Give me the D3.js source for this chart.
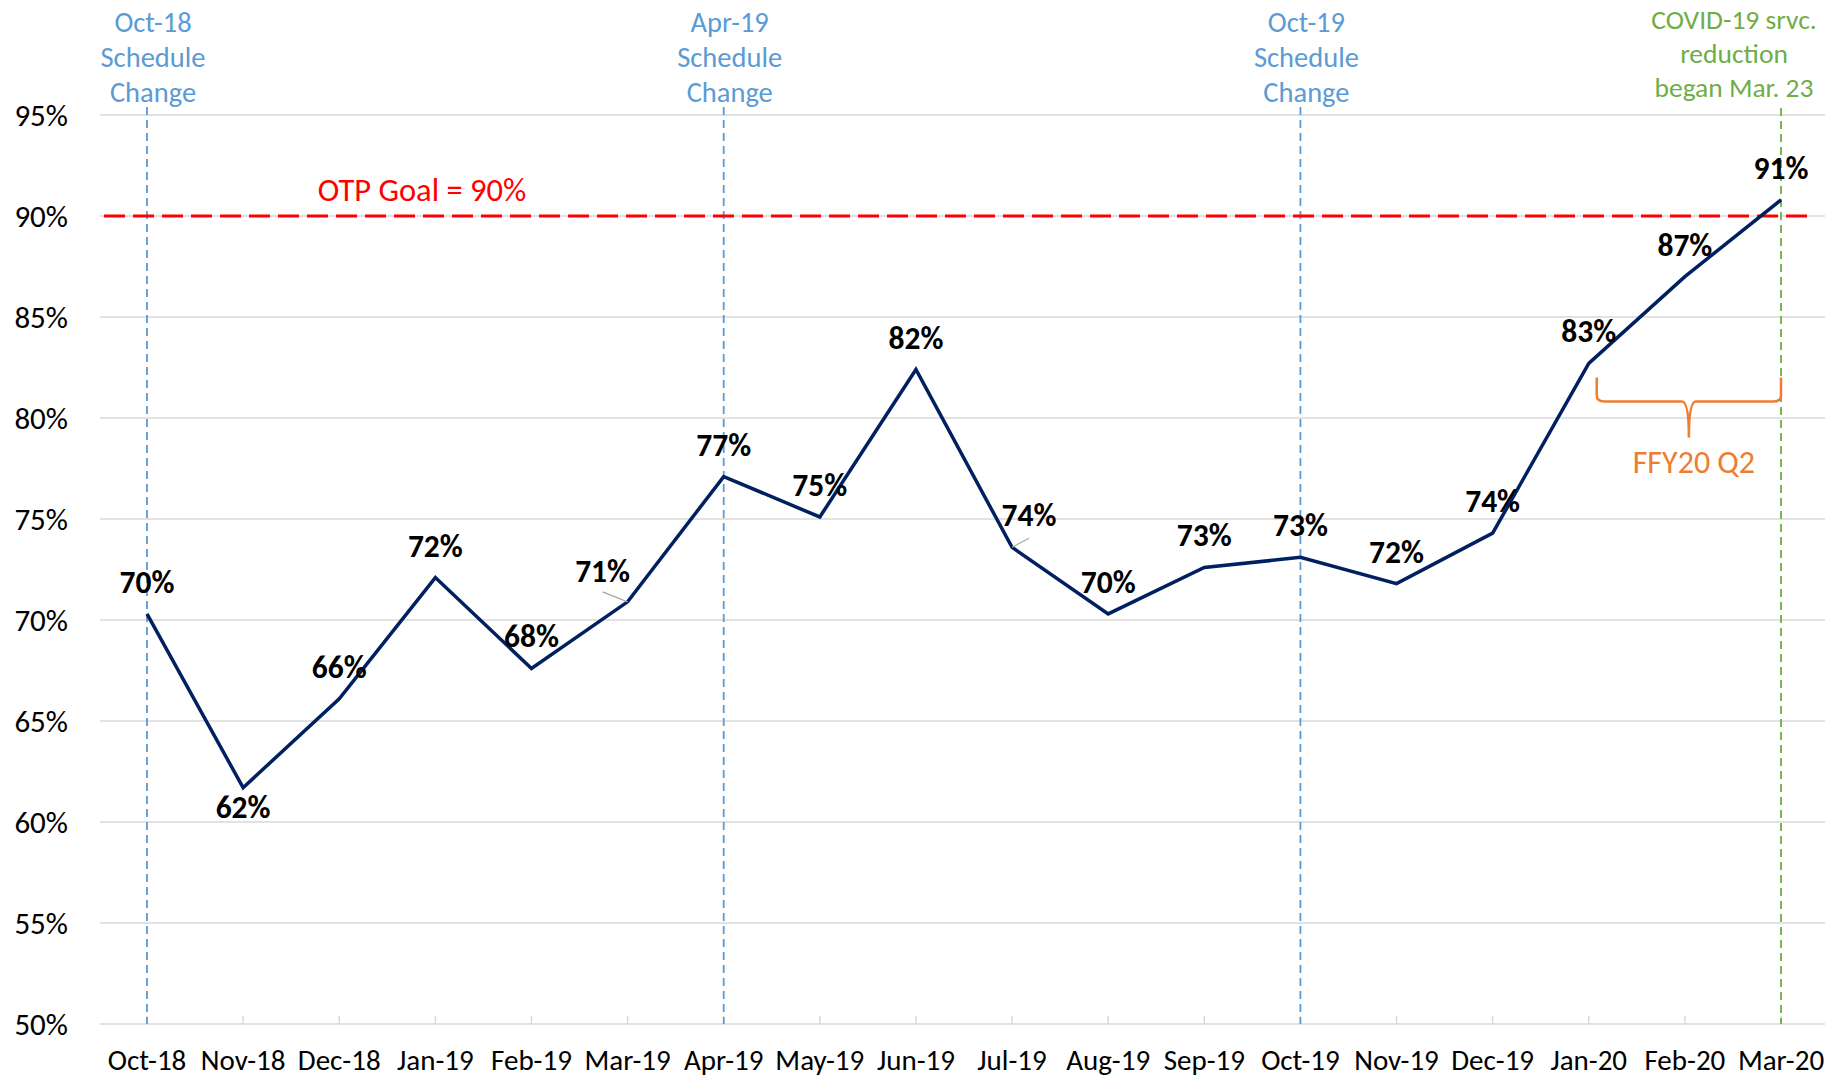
<!DOCTYPE html>
<html>
<head>
<meta charset="utf-8">
<script src="https://cdn.jsdelivr.net/npm/d3@7"></script>
<style>
  body { margin: 0; background: #fff; }
  svg { display: block; font-family: Carlito, Calibri, Lato, sans-serif; }
</style>
</head>
<body>
<svg width="1825" height="1078"></svg>
<script>
const svg = d3.select("svg");
const width = +svg.attr("width");
const height = +svg.attr("height");

// *** DATA ***
const months = ["Oct-18", "Nov-18", "Dec-18", "Jan-19", "Feb-19", "Mar-19", "Apr-19", "May-19", "Jun-19",
    "Jul-19", "Aug-19", "Sep-19", "Oct-19", "Nov-19", "Dec-19", "Jan-20", "Feb-20", "Mar-20"];
const otp = [0.703, 0.617, 0.661, 0.721, 0.676, 0.709, 0.771, 0.751, 0.824,
    0.736, 0.703, 0.726, 0.731, 0.718, 0.743, 0.827, 0.870, 0.908];
const yTicks = [0.50, 0.55, 0.60, 0.65, 0.70, 0.75, 0.80, 0.85, 0.90, 0.95];
const goal = 0.90;
const goalLabel = "OTP Goal = 90%";
const scheduleChanges = ["Oct-18", "Apr-19", "Oct-19"];
const scheduleText = ["Schedule", "Change"];
const covidMonth = "Mar-20";
const covidText = ["COVID-19 srvc.", "reduction", "began Mar. 23"];
const quarterSpan = ["Jan-20", "Mar-20"];
const quarterLabel = "FFY20 Q2";

const blue = "#5B9BD5", green = "#70AD47", orange = "#ED7D31", navy = "#002060";

// *** SCALES ***
const x = d3.scalePoint().domain(months).range([147, 1781]);
const y = d3.scaleLinear().domain([0.50, 0.95]).range([1024, 115]);
const fmt = d3.format(".0%");

// gridlines
svg.append("g")
    .selectAll("line")
    .data(yTicks)
    .enter().append("line")
    .attr("x1", 100).attr("x2", width)
    .attr("y1", d => y(d)).attr("y2", d => y(d))
    .style("stroke", "#D9D9D9")
    .style("stroke-width", 1.5);

// y labels
svg.append("g")
    .selectAll("text")
    .data(yTicks)
    .enter().append("text")
    .attr("x", 68)
    .attr("y", d => y(d) + 11)
    .attr("text-anchor", "end")
    .style("font-size", "31px")
    .text(d => fmt(d));

// x axis ticks + labels
svg.append("g")
    .selectAll("line")
    .data(months)
    .enter().append("line")
    .attr("x1", d => x(d)).attr("x2", d => x(d))
    .attr("y1", y(0.5) - 8).attr("y2", y(0.5))
    .style("stroke", "#D9D9D9")
    .style("stroke-width", 1.5);

svg.append("g")
    .selectAll("text")
    .data(months)
    .enter().append("text")
    .attr("x", d => x(d))
    .attr("y", 1070)
    .attr("text-anchor", "middle")
    .style("font-size", "29px")
    .text(d => d);

// schedule change markers
const sched = svg.append("g")
    .selectAll("g")
    .data(scheduleChanges)
    .enter().append("g");

sched.append("line")
    .attr("x1", d => x(d)).attr("x2", d => x(d))
    .attr("y1", 107).attr("y2", y(0.5))
    .style("stroke", blue)
    .style("stroke-width", 1.8)
    .style("stroke-dasharray", "8,5");

sched.append("text")
    .attr("text-anchor", "middle")
    .style("font-size", "28.5px")
    .style("fill", blue)
    .selectAll("tspan")
    .data(d => [d].concat(scheduleText).map(t => ({ t, m: d })))
    .enter().append("tspan")
    .attr("x", d => x(d.m) + 6)
    .attr("y", (d, i) => 32 + i * 35)
    .text(d => d.t);

// covid marker
svg.append("line")
    .attr("x1", x(covidMonth)).attr("x2", x(covidMonth))
    .attr("y1", 108).attr("y2", y(0.5))
    .style("stroke", green)
    .style("stroke-width", 1.8)
    .style("stroke-dasharray", "8,5");

svg.append("text")
    .attr("text-anchor", "middle")
    .style("font-size", "27.5px")
    .style("fill", green)
    .selectAll("tspan")
    .data(covidText)
    .enter().append("tspan")
    .attr("x", 1734)
    .attr("y", (d, i) => 29 + i * 34)
    .text(d => d);

// goal line
svg.append("line")
    .attr("x1", 104).attr("x2", 1812)
    .attr("y1", y(goal)).attr("y2", y(goal))
    .style("stroke", "#FF0000")
    .style("stroke-width", 3)
    .style("stroke-dasharray", "21,8");

svg.append("text")
    .attr("x", 422)
    .attr("y", y(goal) - 15)
    .attr("text-anchor", "middle")
    .style("font-size", "32.5px")
    .style("fill", "#FF0000")
    .text(goalLabel);

// quarter brace
const bx0 = x(quarterSpan[0]) + 8;
const bx1 = x(quarterSpan[1]);
const bxm = (bx0 + bx1) / 2;
const byTop = y(0.82), byMid = byTop + 24, byTip = byTop + 60;
const p = d3.path();
p.moveTo(bx0, byTop);
p.lineTo(bx0, byMid - 6);
p.quadraticCurveTo(bx0, byMid, bx0 + 8, byMid);
p.lineTo(bxm - 7, byMid);
p.quadraticCurveTo(bxm, byMid, bxm, byTip);
p.quadraticCurveTo(bxm, byMid, bxm + 7, byMid);
p.lineTo(bx1 - 8, byMid);
p.quadraticCurveTo(bx1, byMid, bx1, byMid - 6);
p.lineTo(bx1, byTop);

svg.append("path")
    .attr("d", p.toString())
    .style("fill", "none")
    .style("stroke", orange)
    .style("stroke-width", 2.5);

svg.append("text")
    .attr("x", bxm + 5)
    .attr("y", byTip + 35)
    .attr("text-anchor", "middle")
    .style("font-size", "32px")
    .style("fill", orange)
    .text(quarterLabel);

// OTP line
const line = d3.line()
    .x((d, i) => x(months[i]))
    .y(d => y(d));

svg.append("path")
    .datum(otp)
    .attr("d", line)
    .style("fill", "none")
    .style("stroke", navy)
    .style("stroke-width", 3.5)
    .style("stroke-linejoin", "miter");

// data labels, a few are nudged off the line like in the original
const nudge = { "Nov-18": [0, 30], "Mar-19": [-25, -20], "Jul-19": [17, -21] };
const leaders = { "Mar-19": [-25, -10], "Jul-19": [17, -9] };

svg.append("g")
    .selectAll("line")
    .data(Object.keys(leaders))
    .enter().append("line")
    .attr("x1", d => x(d))
    .attr("y1", d => y(otp[months.indexOf(d)]))
    .attr("x2", d => x(d) + leaders[d][0])
    .attr("y2", d => y(otp[months.indexOf(d)]) + leaders[d][1])
    .style("stroke", "#A6A6A6")
    .style("stroke-width", 1.2);

svg.append("g")
    .selectAll("text")
    .data(otp)
    .enter().append("text")
    .attr("x", (d, i) => x(months[i]) + (nudge[months[i]] || [0, -21])[0])
    .attr("y", (d, i) => y(d) + (nudge[months[i]] || [0, -21])[1])
    .attr("text-anchor", "middle")
    .style("font-size", "31.5px")
    .style("font-weight", "bold")
    .text(d => fmt(d));
</script>
</body>
</html>
